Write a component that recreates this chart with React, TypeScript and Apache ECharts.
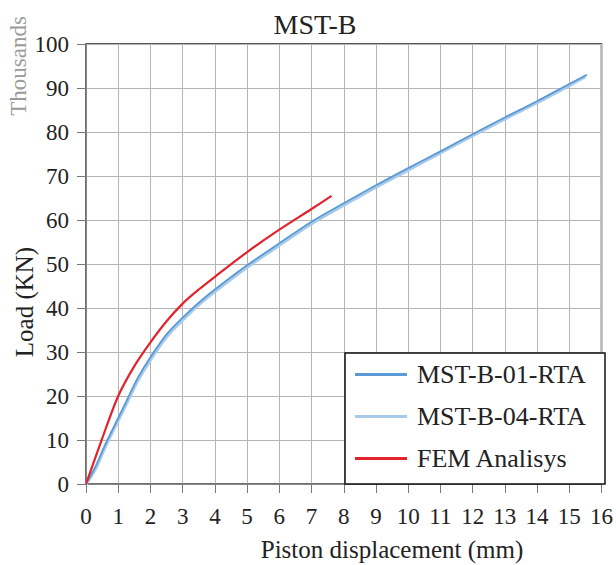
import React, { useEffect, useRef } from "react";
import * as echarts from "echarts";

const xRange = [0, 16];
const yRange = [0, 100];
const mst01X = [0, 0.3, 0.6, 1, 1.3, 1.6, 2, 2.5, 3, 3.5, 4, 5, 6, 7, 8, 9, 10, 11, 12, 13, 14, 15, 15.55];
const mst01Y = [0, 4, 9, 15, 19.5, 24, 28.8, 34, 37.8, 41.2, 44.2, 49.7, 54.7, 59.6, 63.8, 67.9, 71.8, 75.6, 79.5, 83.3, 87, 90.9, 93];
const mst04X = [0, 0.3, 0.6, 1, 1.3, 1.6, 2, 2.5, 3, 3.5, 4, 5, 6, 7, 8, 9, 10, 11, 12, 13, 14, 15, 15.5];
const mst04Y = [0, 3.6, 8.6, 14.5, 19, 23.5, 28.3, 33.5, 37.3, 40.8, 43.8, 49.3, 54.3, 59.2, 63.4, 67.5, 71.4, 75.3, 79.2, 83, 86.7, 90.6, 92.6];
const femX = [0, 0.5, 1, 1.5, 2, 2.5, 3, 3.5, 4, 5, 6, 7, 7.62];
const femY = [0, 10.3, 20, 26.8, 32.2, 37, 41, 44.2, 47.1, 52.7, 57.8, 62.5, 65.5];

const zip = (xs: number[], ys: number[]) => xs.map((x, i) => [x, ys[i]]);

const FONT = "'Liberation Serif', 'DejaVu Serif', serif";

export default function App() {
  const ref = useRef<HTMLDivElement>(null);
  useEffect(() => {
    if (!ref.current) return;
    const chart = echarts.init(ref.current, undefined, { renderer: "svg" });
    chart.setOption({
      animation: false,
      textStyle: { fontFamily: FONT },
      title: {
        text: "MST-B",
        left: 310,
        textAlign: "center",
        top: 5,
        textStyle: { fontFamily: FONT, fontSize: 28, fontWeight: "normal", color: "#222" },
      },
      grid: { left: 86, right: 14, top: 44, bottom: 81, show: true, borderColor: "#222", borderWidth: 1.5 },
      legend: {
        orient: "vertical",
        left: 345,
        top: 352,
        padding: [9, 10, 10, 10],
        icon: "rect",
        itemWidth: 52,
        itemHeight: 3,
        itemGap: 15,
        textStyle: { fontFamily: FONT, fontSize: 26, lineHeight: 27, color: "#222", padding: [0, 0, 0, 5] },
        data: ["MST-B-01-RTA", "MST-B-04-RTA", "FEM Analisys"],
      },
      xAxis: {
        type: "value",
        min: xRange[0],
        max: xRange[1],
        interval: 1,
        axisLine: { show: true, lineStyle: { color: "#777", width: 1.5 } },
        axisTick: { show: true, inside: false, length: 9, lineStyle: { color: "#777" } },
        axisLabel: { margin: 21, fontFamily: FONT, fontSize: 23, color: "#222" },
        splitLine: { show: true, lineStyle: { color: "#b5b5b5", width: 1 } },
      },
      yAxis: {
        type: "value",
        min: yRange[0],
        max: yRange[1],
        interval: 10,
        axisLine: { show: true, lineStyle: { color: "#777", width: 1.5 } },
        axisTick: { show: true, inside: false, length: 9, lineStyle: { color: "#777" } },
        axisLabel: { margin: 17, fontFamily: FONT, fontSize: 23, color: "#222" },
        splitLine: { show: true, lineStyle: { color: "#b5b5b5", width: 1 } },
      },
      graphic: [
        {
          type: "rect",
          z: 3,
          shape: { x: 345, y: 353, width: 260, height: 131 },
          style: { fill: "#fff", stroke: "#111", lineWidth: 1.5 },
        },
        {
          type: "text",
          x: 18,
          y: 66,
          rotation: Math.PI / 2,
          style: {
            text: "Thousands",
            font: `23px ${FONT}`,
            fill: "#9a9a9a",
            textAlign: "center",
            textVerticalAlign: "middle",
          },
        },
        {
          type: "text",
          x: 24,
          y: 302,
          rotation: Math.PI / 2,
          style: {
            text: "Load (KN)",
            font: `25px ${FONT}`,
            fill: "#222",
            textAlign: "center",
            textVerticalAlign: "middle",
          },
        },
        {
          type: "text",
          x: 392,
          y: 549,
          style: {
            text: "Piston displacement (mm)",
            font: `25px ${FONT}`,
            fill: "#222",
            textAlign: "center",
            textVerticalAlign: "middle",
          },
        },
      ],
      series: [
        {
          name: "MST-B-04-RTA",
          type: "line",
          symbol: "none",
          smooth: 0.3,
          data: zip(mst04X, mst04Y),
          lineStyle: { color: "#a9cbe9", width: 3.5 },
          itemStyle: { color: "#a9cbe9" },
        },
        {
          name: "MST-B-01-RTA",
          type: "line",
          symbol: "none",
          smooth: 0.3,
          data: zip(mst01X, mst01Y),
          lineStyle: { color: "#5b9bd5", width: 1.8 },
          itemStyle: { color: "#5b9bd5" },
        },
        {
          name: "FEM Analisys",
          type: "line",
          symbol: "none",
          smooth: 0.3,
          data: zip(femX, femY),
          lineStyle: { color: "#e3232c", width: 2.2 },
          itemStyle: { color: "#e3232c" },
        },
      ],
    });
    return () => chart.dispose();
  }, []);
  return <div ref={ref} style={{ position: "absolute", left: 0, top: 0, width: 616, height: 565 }} />;
}
